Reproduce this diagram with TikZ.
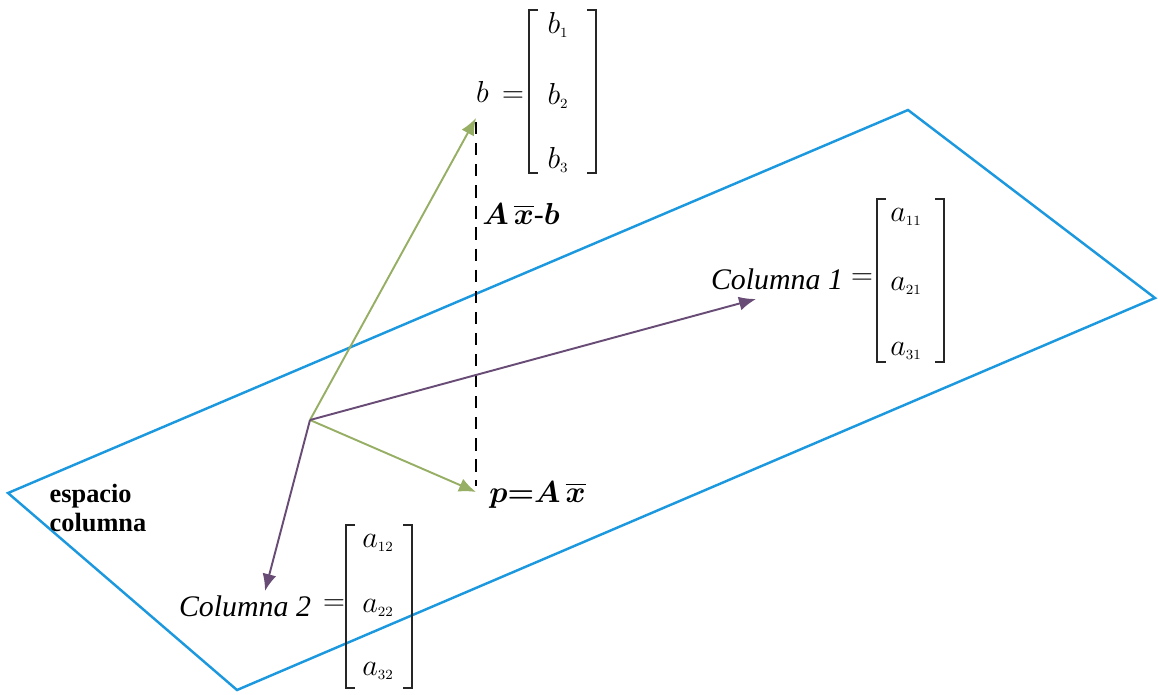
\documentclass[tikz,border=0pt]{standalone}
\usepackage{amsmath,bm}
\usepackage{fontspec}
\setmainfont{Liberation Serif}
\usetikzlibrary{arrows.meta}
\definecolor{planeblue}{RGB}{28,152,222}
\definecolor{vgreen}{RGB}{150,175,100}
\definecolor{vpurple}{RGB}{104,76,118}
\tikzset{
  plane/.style={draw=planeblue, line width=1.4pt, line join=miter},
  gvec/.style={draw=vgreen, line width=1.1pt, -{Latex[length=0.34cm,width=0.28cm]}},
  pvec/.style={draw=vpurple, line width=1.1pt, -{Latex[length=0.34cm,width=0.28cm]}},
  brk/.style={draw=black!85, line width=1.3pt},
  lbl/.style={inner sep=0pt, font=\fontsize{17}{20}\selectfont},
  ent/.style={inner sep=0pt, font=\fontsize{17}{20}\selectfont},
}
\newcommand{\bracketpair}[4]{% x1 y1 x2 y2
  \draw[brk] (#1+9,#2) -- (#1,#2) -- (#1,#4) -- (#1+9,#4);
  \draw[brk] (#3-9,#2) -- (#3,#2) -- (#3,#4) -- (#3-9,#4);
}
\begin{document}
\begin{tikzpicture}[x=0.02cm,y=-0.02cm]
\useasboundingbox (0,0) rectangle (1158,694);
% plane
\coordinate (P1) at (8,493);
\coordinate (P2) at (908,110);
\coordinate (P3) at (1155,298);
\coordinate (P4) at (237,690);
\draw[plane] (P1) -- (P2) -- (P3) -- (P4) -- cycle;
% origin and tips
\coordinate (O) at (310,420);
\coordinate (B) at (476,118);
\coordinate (Pp) at (476,492);
\coordinate (C1) at (756,299);
\coordinate (C2) at (265,591);
\draw[black, line width=1.1pt, dash pattern=on 7pt off 5pt] (476,122) -- (476,486);
\draw[gvec] (O) -- (B);
\draw[gvec] (O) -- (Pp);
\draw[pvec] (O) -- (C1);
\draw[pvec] (O) -- (C2);
% b matrix
\node[lbl] (beq) at (500,92) {$b\,=$};
\bracketpair{529}{10}{596}{173}
\node[ent] (b1) at (558,25) {$b_{\scriptscriptstyle 1}$};
\node[ent] (b2) at (558,96) {$b_{\scriptscriptstyle 2}$};
\node[ent] (b3) at (558,160) {$b_{\scriptscriptstyle 3}$};
% residual label
\node[lbl, anchor=west] (res) at (482,214) {$\bm{A}\,\overline{\bm{x}}\text{-}\bm{b}$};
% p label
\node[lbl, anchor=west] (plab) at (489,495) {$\bm{p}{\bm{=}}\bm{A}\,\overline{\bm{x}}$};
% column 1
\node[lbl] (col1) at (777,279) {\itshape Columna 1};
\node[lbl] (eq1) at (862,279) {$=$};
\bracketpair{877}{199}{944}{362}
\node[ent] (a11) at (906,217) {$a_{\scriptscriptstyle 11}$};
\node[ent] (a21) at (906,286) {$a_{\scriptscriptstyle 21}$};
\node[ent] (a31) at (906,351) {$a_{\scriptscriptstyle 31}$};
% column 2
\node[lbl] (col2) at (245,606) {\itshape Columna 2};
\node[lbl] (eq2) at (334,605) {$=$};
\bracketpair{346}{525}{412}{688}
\node[ent] (a12) at (378,543) {$a_{\scriptscriptstyle 12}$};
\node[ent] (a22) at (378,608) {$a_{\scriptscriptstyle 22}$};
\node[ent] (a32) at (378,671) {$a_{\scriptscriptstyle 32}$};
% espacio columna
\node[inner sep=0pt, align=left, font=\bfseries\fontsize{15}{17}\selectfont] (esp) at (98,508) {espacio\\columna};
\end{tikzpicture}
\end{document}
